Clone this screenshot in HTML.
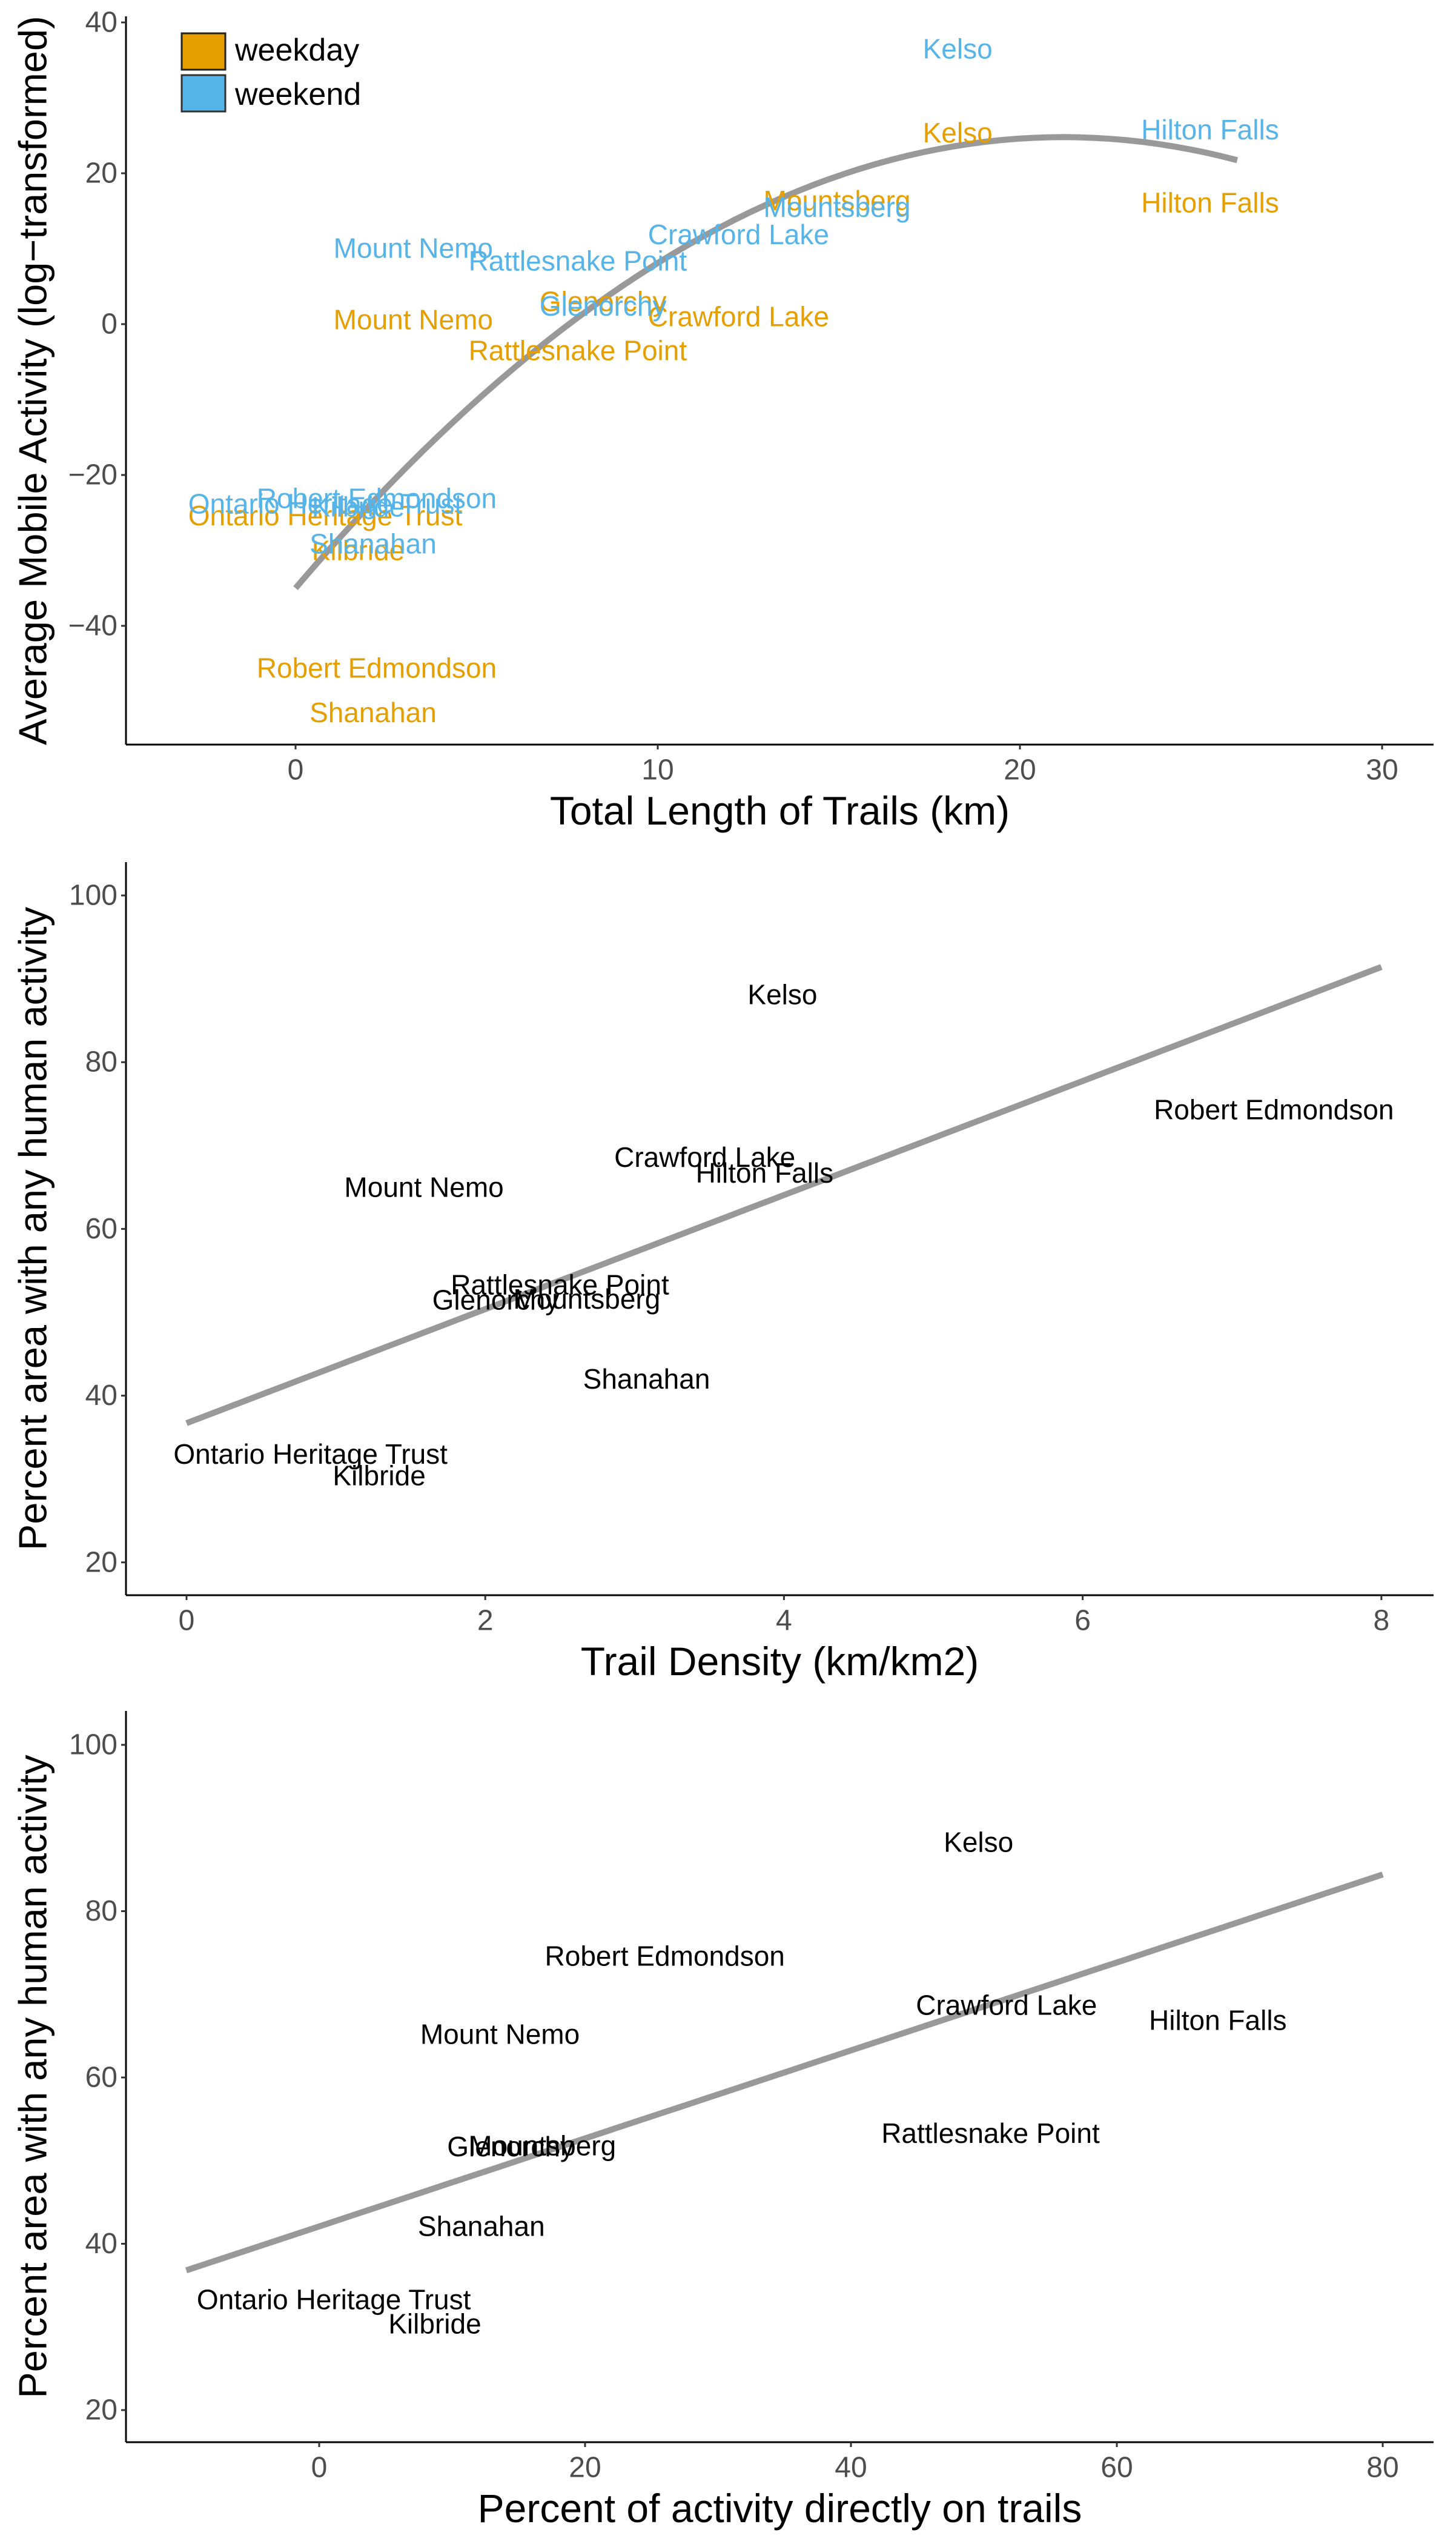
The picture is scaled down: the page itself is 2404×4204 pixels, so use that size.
<!DOCTYPE html>
<html><head><meta charset="utf-8">
<style>
html,body{margin:0;padding:0;background:#fff;}
svg{display:block;font-family:"Liberation Sans",Arial,sans-serif;}
</style></head>
<body>
<svg id="chart" width="2404" height="4204" viewBox="0 0 2404 4204" xmlns="http://www.w3.org/2000/svg">
<rect width="2404" height="4204" fill="#fff"/>
</svg>
<script>
// ---- Panel 1 data ----
const p1Sites = ["Kelso","Hilton Falls","Mountsberg","Crawford Lake","Mount Nemo","Rattlesnake Point","Glenorchy","Robert Edmondson","Ontario Heritage Trust","Shanahan","Kilbride"];
const p1X = [18.28, 25.25, 14.95, 12.23, 3.25, 7.79, 8.49, 2.24, 0.82, 2.14, 1.73];
const p1Weekday = [25.4, 16.1, 16.4, 1.0, 0.6, -3.5, 3.0, -45.6, -25.4, -51.5, -30.0];
const p1Weekend = [36.5, 25.8, 15.5, 11.9, 10.1, 8.4, 2.4, -23.1, -23.8, -29.1, -24.2];
const p1Fit = [-35, 5.64, -0.133];
const p1FitRange = [0, 26];
const p1XTicks = [0, 10, 20, 30];
const p1YTicks = [-40, -20, 0, 20, 40];
// ---- Panel 2 data ----
const p2Sites = ["Kelso","Robert Edmondson","Crawford Lake","Hilton Falls","Mount Nemo","Rattlesnake Point","Glenorchy","Mountsberg","Shanahan","Ontario Heritage Trust","Kilbride"];
const p2X = [3.99, 7.28, 3.47, 3.87, 1.59, 2.5, 2.07, 2.68, 3.08, 0.83, 1.29];
const p2Y = [88.1, 74.3, 68.6, 66.7, 65.0, 53.3, 51.5, 51.6, 42.0, 33.0, 30.4];
const p2Fit = [36.7, 6.84];
const p2FitRange = [0, 8];
const p2XTicks = [0, 2, 4, 6, 8];
const p2YTicks = [20, 40, 60, 80, 100];
// ---- Panel 3 data ----
const p3Sites = ["Kelso","Robert Edmondson","Crawford Lake","Hilton Falls","Mount Nemo","Rattlesnake Point","Glenorchy","Mountsberg","Shanahan","Ontario Heritage Trust","Kilbride"];
const p3X = [49.6, 26.0, 51.7, 67.6, 13.6, 50.5, 14.4, 16.8, 12.2, 1.1, 8.7];
const p3Y = [88.3, 74.6, 68.7, 66.9, 65.2, 53.3, 51.7, 51.8, 42.1, 33.3, 30.4];
const p3Fit = [42.09, 0.529];
const p3FitRange = [-10, 80];
const p3XTicks = [0, 20, 40, 60, 80];
const p3YTicks = [20, 40, 60, 80, 100];

const NS = "http://www.w3.org/2000/svg";
const svg = document.getElementById('chart');
function mk(tag, attrs, parent){const e=document.createElementNS(NS,tag);for(const k in attrs)e.setAttribute(k,attrs[k]);(parent||svg).appendChild(e);return e;}
function txt(s, attrs, parent){const e=mk('text',attrs,parent);e.textContent=s;return e;}

function panel(cfg){
  const g = mk('g',{});
  
  
  const sx = v => cfg.x0 + (v - cfg.xv0) * cfg.xs;
  const sy = v => cfg.y0 - (v - cfg.yv0) * cfg.ys;
  const ya = mk('line',{x1:cfg.left,y1:cfg.top,x2:cfg.left,y2:cfg.bottom,stroke:'#000','stroke-width':3},g);
  
  
  const xa = mk('line',{x1:cfg.left,y1:cfg.bottom,x2:2367,y2:cfg.bottom,stroke:'#000','stroke-width':3},g);
  
  
  cfg.xTicks.forEach(t=>{
    const X=sx(t);
    mk('line',{x1:X,y1:cfg.bottom,x2:X,y2:cfg.bottom+8,stroke:'#333','stroke-width':3},g);
    const l=txt(String(t),{x:X,y:cfg.bottom+42,'text-anchor':'middle','dominant-baseline':'central','font-size':48,fill:'#4d4d4d'},g);
    
    
  });
  cfg.yTicks.forEach(t=>{
    const Y=sy(t);
    mk('line',{x1:cfg.left-8,y1:Y,x2:cfg.left,y2:Y,stroke:'#333','stroke-width':3},g);
    const l=txt(t<0?'\u2212'+Math.abs(t):String(t),{x:cfg.left-14,y:Y,'text-anchor':'end','dominant-baseline':'central','font-size':48,fill:'#4d4d4d'},g);
    
    
  });
  const xt=txt(cfg.xTitle,{x:(cfg.left+2367)/2,y:cfg.bottom+109,'text-anchor':'middle','dominant-baseline':'central','font-size':66,fill:'#000'},g);
  
  
  const yc=(cfg.top+cfg.bottom)/2;
  const yt=txt(cfg.yTitle,{x:54,y:yc,'text-anchor':'middle','dominant-baseline':'central','font-size':65,fill:'#000',transform:`rotate(-90 54 ${yc})`},g);
  
  
  return {g,sx,sy};
}
function fitPath(g, sx, sy, coef, range){
  let d='';
  const n=60;
  for(let i=0;i<=n;i++){
    const x=range[0]+(range[1]-range[0])*i/n;
    let y=0; coef.forEach((c,k)=>{y+=c*Math.pow(x,k);});
    d+=(i?'L':'M')+sx(x).toFixed(1)+','+sy(y).toFixed(1);
  }
  const p=mk('path',{d:d,fill:'none',stroke:'#999999','stroke-width':10,'stroke-linecap':'butt'},g);
  
  
}
function labels(g, sx, sy, sites, xs, ys, color, nm){
  sites.forEach((s,i)=>{
    const t=txt(s,{x:sx(xs[i]),y:sy(ys[i]),'text-anchor':'middle','dominant-baseline':'central','font-size':46,fill:color},g);
    
    
  });
}

// Panel 1
const P1 = panel({name:'panel-trail-length',left:208,top:27,bottom:1229,x0:488,xv0:0,xs:59.8,y0:535,yv0:0,ys:12.45,
  xTicks:p1XTicks,yTicks:p1YTicks,xTitle:'Total Length of Trails (km)',yTitle:'Average Mobile Activity (log\u2212transformed)'});
fitPath(P1.g,P1.sx,P1.sy,p1Fit,p1FitRange);
labels(P1.g,P1.sx,P1.sy,p1Sites,p1X,p1Weekday,'#E69F00','weekday-label');
labels(P1.g,P1.sx,P1.sy,p1Sites,p1X,p1Weekend,'#56B4E9','weekend-label');
const lg = mk('g',{});


const lk1=mk('rect',{x:300,y:55,width:72,height:60,fill:'#E69F00',stroke:'#222','stroke-width':3},lg);


const lk2=mk('rect',{x:300,y:124,width:72,height:60,fill:'#56B4E9',stroke:'#333','stroke-width':3},lg);


const lt1=txt('weekday',{x:388,y:83,'dominant-baseline':'central','font-size':52,fill:'#000'},lg);


const lt2=txt('weekend',{x:388,y:156,'dominant-baseline':'central','font-size':52,fill:'#000'},lg);



// Panel 2
const P2 = panel({name:'panel-trail-density',left:208,top:1423,bottom:2633,x0:308,xv0:0,xs:246.6,y0:1478,yv0:100,ys:13.76,
  xTicks:p2XTicks,yTicks:p2YTicks,xTitle:'Trail Density (km/km2)',yTitle:'Percent area with any human activity'});
fitPath(P2.g,P2.sx,P2.sy,p2Fit,p2FitRange);
labels(P2.g,P2.sx,P2.sy,p2Sites,p2X,p2Y,'#000','site-label');

// Panel 3
const P3 = panel({name:'panel-activity-on-trails',left:208,top:2824,bottom:4031,x0:527,xv0:0,xs:21.95,y0:2880,yv0:100,ys:13.725,
  xTicks:p3XTicks,yTicks:p3YTicks,xTitle:'Percent of activity directly on trails',yTitle:'Percent area with any human activity'});
fitPath(P3.g,P3.sx,P3.sy,p3Fit,p3FitRange);
labels(P3.g,P3.sx,P3.sy,p3Sites,p3X,p3Y,'#000','site-label');
</script>
</body></html>
